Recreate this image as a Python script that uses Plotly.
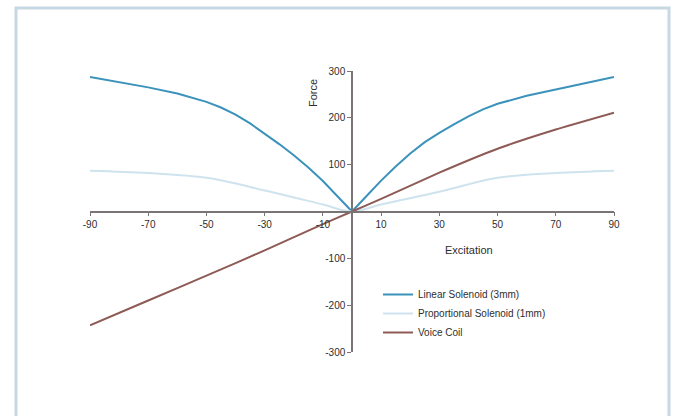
import plotly.graph_objects as go

# Data
x_lin = [-90, -80, -70, -60, -50, -45, -40, -35, -30, -25, -20, -15, -10, -5, 0,
         5, 10, 15, 20, 25, 30, 35, 40, 45, 50, 60, 70, 80, 90]
linear_solenoid = [287, 276, 265, 252, 234, 222, 207, 188, 166, 144, 120, 94, 65, 33, 0,
                   33, 66, 96, 124, 148, 168, 186, 203, 218, 230, 247, 261, 274, 287]

x_prop = [-90, -70, -50, -30, -10, 0, 10, 30, 50, 70, 90]
proportional_solenoid = [87, 82, 72, 45, 15, 0, 15, 42, 72, 82, 87]

x_vc = [-90, -70, -50, -30, -10, 0, 10, 30, 50, 70, 90]
voice_coil = [-243, -190, -137, -83, -27, 0, 27, 83, 134, 175, 211]

x_ticks = [-90, -70, -50, -30, -10, 10, 30, 50, 70, 90]
y_ticks = [-300, -200, -100, 100, 200, 300]

fig = go.Figure()
fig.add_trace(go.Scatter(x=x_lin, y=linear_solenoid, mode="lines",
                         name="Linear Solenoid (3mm)",
                         line=dict(color="#3b92ba", width=2)))
fig.add_trace(go.Scatter(x=x_prop, y=proportional_solenoid, mode="lines",
                         name="Proportional Solenoid (1mm)",
                         line=dict(color="#cfe3ef", width=2, shape="spline")))
fig.add_trace(go.Scatter(x=x_vc, y=voice_coil, mode="lines",
                         name="Voice Coil",
                         line=dict(color="#8e5a56", width=2, shape="spline", smoothing=0.5)))

W, H = 677, 416
L, R, T, B = 90, 63, 71, 64
pw, ph = W - L - R, H - T - B

def px(xp):
    return (xp - L) / pw

def py(yp):
    return (H - B - yp) / ph

txt = "#2e2e2e"
fig.update_layout(
    width=W, height=H,
    margin=dict(l=L, r=R, t=T, b=B),
    paper_bgcolor="white", plot_bgcolor="white",
    font=dict(family="Liberation Sans, Arial, sans-serif", size=10, color=txt),
    showlegend=True,
    legend=dict(x=px(378), y=py(280), xanchor="left", yanchor="top",
                bgcolor="rgba(0,0,0,0)", font=dict(size=10, color=txt),
                itemwidth=30, tracegroupgap=0),
    shapes=[dict(type="rect", xref="paper", yref="paper",
                 x0=px(16), x1=px(669), y0=py(430), y1=py(8),
                 line=dict(color="#c8d8e2", width=3), fillcolor="rgba(0,0,0,0)",
                 layer="below")],
    annotations=[
        dict(text="Excitation", xref="paper", yref="paper", x=px(469), y=py(250),
             xanchor="center", yanchor="middle",
             showarrow=False, font=dict(size=11, color=txt)),
        dict(text="Force", xref="paper", yref="paper", x=px(313), y=py(93),
             xanchor="center", yanchor="middle",
             showarrow=False, textangle=-90, font=dict(size=11, color=txt)),
    ],
)

fig.update_xaxes(range=[-90, 90], anchor="free", position=0.5,
                 showline=True, linecolor="#7a7474", linewidth=1.5,
                 showgrid=False, zeroline=False,
                 ticks="outside", ticklen=4, tickcolor="#7a7474", tickwidth=1,
                 tickvals=x_ticks, ticktext=[str(v) for v in x_ticks],
                 tickfont=dict(size=10, color=txt))
fig.update_yaxes(range=[-300, 300], anchor="free", position=0.5,
                 showline=True, linecolor="#7a7474", linewidth=1.5,
                 showgrid=False, zeroline=False,
                 ticks="outside", ticklen=4, tickcolor="#7a7474", tickwidth=1,
                 tickvals=y_ticks, ticktext=[str(v) for v in y_ticks],
                 tickfont=dict(size=10, color=txt))

fig.write_html("out.html")
